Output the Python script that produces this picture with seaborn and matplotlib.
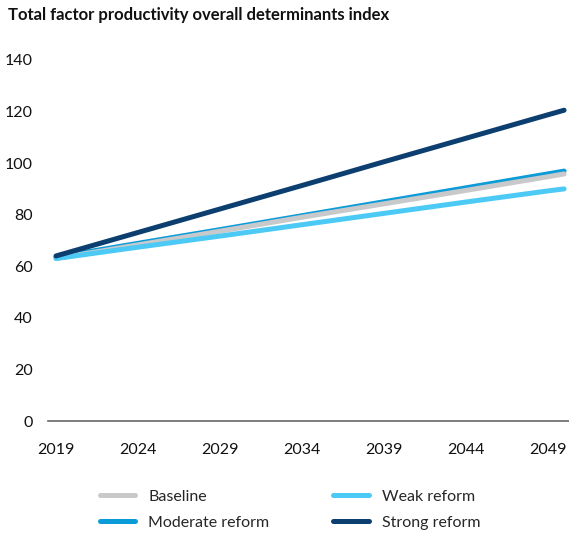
import pandas as pd
import numpy as np
import matplotlib
matplotlib.use("Agg")
import matplotlib.pyplot as plt
import seaborn as sns

years = [2019, 2024, 2029, 2034, 2039, 2044, 2049, 2050]
baseline = [63.0, 68.3, 73.6, 79.0, 84.2, 89.4, 94.7, 95.8]
weak = [63.0, 67.4, 71.7, 76.1, 80.5, 84.9, 89.2, 90.0]
moderate = [63.5, 68.9, 74.2, 79.6, 85.0, 90.4, 95.8, 96.9]
strong = [64.0, 73.1, 82.2, 91.3, 100.5, 109.6, 118.7, 120.5]

series_names = ["Baseline", "Weak reform", "Moderate reform", "Strong reform"]
colors = {"Baseline": "#c8c9cb", "Weak reform": "#4ccaf5",
          "Moderate reform": "#0b9bd8", "Strong reform": "#0c3f70"}
xticks = [2019, 2024, 2029, 2034, 2039, 2044, 2049]
yticks = [0, 20, 40, 60, 80, 100, 120, 140]

df = pd.concat([
    pd.DataFrame({"year": years, "value": vals, "scenario": name})
    for name, vals in zip(series_names, [baseline, weak, moderate, strong])
])

sns.set_style("white")
plt.rcParams['font.family'] = ['Lato', 'DejaVu Sans']

fig = plt.figure(figsize=(5.69, 5.35), dpi=100)
ax = fig.add_axes([0.084, 0.213, 0.916, 0.675])

# draw moderate under baseline, as in the source
draw_order = ["Moderate reform", "Baseline", "Weak reform", "Strong reform"]
sns.lineplot(data=df, x="year", y="value", hue="scenario", hue_order=draw_order,
             palette=colors, linewidth=3.6, legend=False, ax=ax,
             solid_capstyle="round")

ax.set_xlim(2018.5, 2050.3)
ax.set_ylim(0, 140)
ax.set_xticks(xticks)
ax.set_yticks(yticks)
ax.tick_params(axis="both", length=0, labelsize=11.5, colors="#111111")
ax.tick_params(axis="y", pad=11)
ax.tick_params(axis="x", pad=16)
ax.set_xlabel("")
ax.set_ylabel("")
for s in ["top", "right", "left"]:
    ax.spines[s].set_visible(False)
ax.spines["bottom"].set_color("#666666")
ax.spines["bottom"].set_linewidth(1.2)

fig.text(0.014, 0.972, "Total factor productivity overall determinants index",
         fontsize=12, fontweight="bold", ha="left", va="center", color="#111111")

lines = dict(zip(draw_order, ax.get_lines()))
legend_order = ["Baseline", "Moderate reform", "Weak reform", "Strong reform"]
fig.legend([lines[n] for n in legend_order], legend_order, ncol=2, frameon=False,
           loc="center", bbox_to_anchor=(0.51, 0.047), fontsize=11.5,
           handlelength=2.2, handletextpad=0.85, columnspacing=4.0,
           labelspacing=0.75)

fig.savefig("out.png", dpi=100)
